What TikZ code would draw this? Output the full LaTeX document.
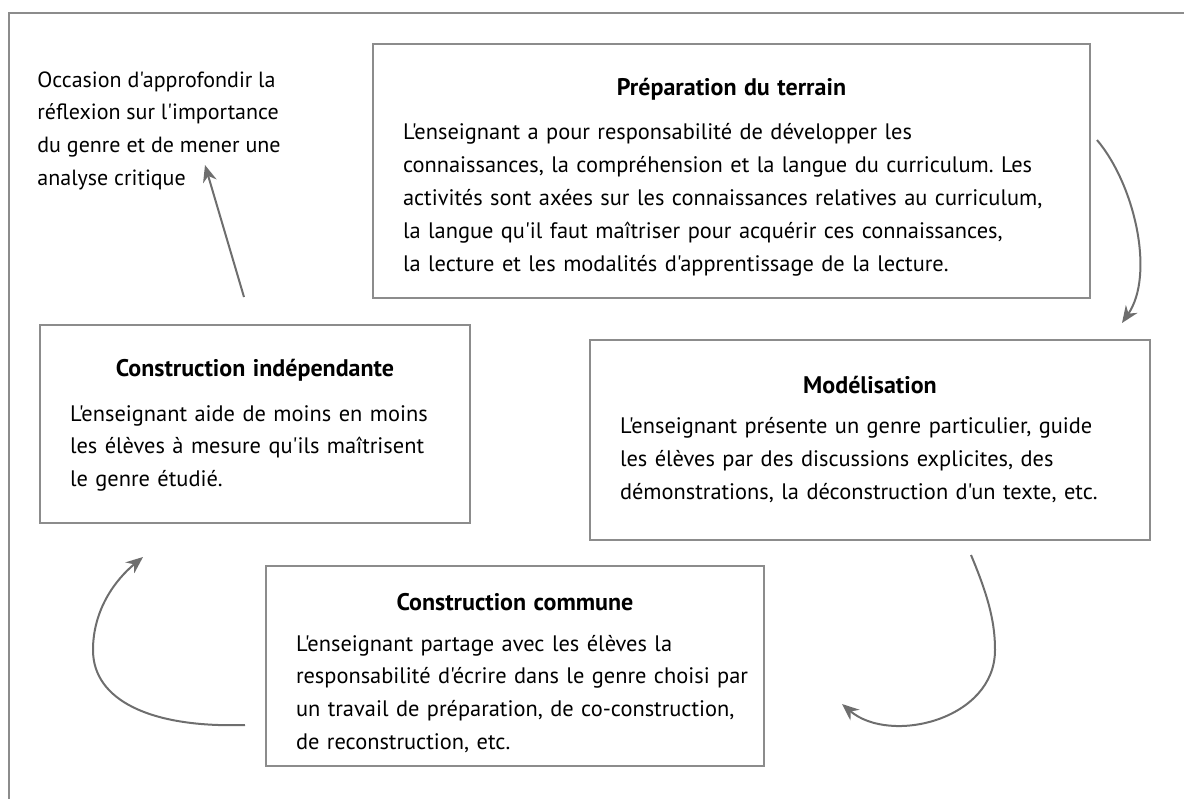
\documentclass[tikz,border=0pt]{standalone}
\usepackage{fontspec}
\setmainfont{PT Sans}[Ligatures=TeXOff]
\usetikzlibrary{arrows.meta}
\definecolor{cadregris}{HTML}{8C8C8C}
\definecolor{flechegris}{HTML}{6E6E6E}
\newcommand{\corps}[1]{\begin{tabular}{@{}l@{}}#1\end{tabular}}
\newcommand{\titre}[2][0pt]{{\centering\fontsize{12}{14}\selectfont\bfseries
  \rule{0pt}{\dimexpr 9pt+#1\relax}#2\par}\vspace{7.5pt}}
\frenchspacing

\begin{document}
\begin{tikzpicture}[x=0.5pt,y=-0.5pt,
    etape/.style={draw=cadregris, line width=0.75pt, inner xsep=15pt, align=left,
      font=\fontsize{11.2}{16.4}\selectfont},
    fleche/.style={draw=flechegris, line width=1pt, -{Stealth[length=8.5pt,width=7pt]}}]
  \useasboundingbox (0,0) rectangle (1184,799);
  \draw[cadregris, line width=0.75pt] (1184,13) -- (9,13) -- (9,799);

  \node[align=left, anchor=north west, inner sep=0pt, font=\fontsize{11}{16.4}\selectfont] (occasion) at (37,71)
    {Occasion d'approfondir la\\ réflexion sur l'importance\\ du genre et de mener une\\ analyse critique};

  \node[etape, text width=328.5pt, minimum height=127pt] (terrain) at (731.5,171)
    {\titre[8pt]{Préparation du terrain}
     \corps{L'enseignant a pour responsabilité de développer les\\
     connaissances, la compréhension et la langue du curriculum. Les\\
     activités sont axées sur les connaissances relatives au curriculum,\\
     la langue qu'il faut maîtriser pour acquérir ces connaissances,\\
     la lecture et les modalités d'apprentissage de la lecture.}};

  \node[etape, text width=185pt, minimum height=99pt] (independante) at (255,424)
    {\titre[3.5pt]{Construction indépendante}
     \corps{L'enseignant aide de moins en moins\\
     les élèves à mesure qu'ils maîtrisent\\
     le genre étudié.}};

  \node[etape, text width=250pt, minimum height=100pt] (modelisation) at (870,440)
    {\titre[2pt]{Modélisation}
     \corps{L'enseignant présente un genre particulier, guide\\
     les élèves par des discussions explicites, des\\
     démonstrations, la déconstruction d'un texte, etc.}};

  \node[etape, text width=219pt, minimum height=99pt] (commune) at (515,666)
    {\titre[10pt]{Construction commune}
     \corps{L'enseignant partage avec les élèves la\\
     responsabilité d'écrire dans le genre choisi par\\
     un travail de préparation, de co-construction,\\
     de reconstruction, etc.}};

  \coordinate (c1) at (1097,140);
  \coordinate (c2) at (1122,323);
  \coordinate (c3) at (971,555);
  \coordinate (c4) at (842,704);
  \coordinate (c5) at (245,725);
  \coordinate (c6) at (143,557);
  \coordinate (c7) at (244,297);
  \coordinate (c8) at (205,165);

  \draw[fleche] (c1) .. controls (1135,185) and (1155,275) .. (c2);
  \draw[fleche] (c3) .. controls (990,600) and (995,625) .. (995,650)
                     .. controls (995,720) and (890,745) .. (c4);
  \draw[fleche] (c5) .. controls (150,728) and (93,700) .. (93,650)
                     .. controls (93,610) and (115,580) .. (c6);
  \draw[fleche] (c7) -- (c8);
\end{tikzpicture}
\end{document}
